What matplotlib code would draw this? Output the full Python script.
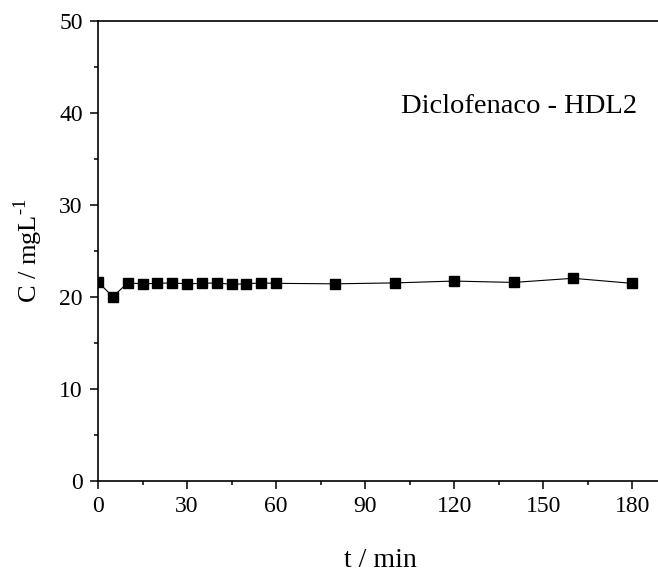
import numpy as np
import matplotlib
matplotlib.use("Agg")
import matplotlib.pyplot as plt
from matplotlib.ticker import MultipleLocator

plt.rcParams["font.family"] = ["Liberation Serif", "DejaVu Serif"]
plt.rcParams["mathtext.fontset"] = "custom"
plt.rcParams["mathtext.rm"] = "Liberation Serif"

# Data
t = [0, 5, 10, 15, 20, 25, 30, 35, 40, 45, 50, 55, 60, 80, 100, 120, 140, 160, 180]
conc = [21.6, 20.0, 21.5, 21.4, 21.45, 21.5, 21.4, 21.45, 21.5, 21.35, 21.4, 21.5, 21.45,
        21.4, 21.5, 21.7, 21.55, 22.0, 21.45]
label_text = "Diclofenaco - HDL2"

fig = plt.figure(figsize=(6.58, 5.76), dpi=100)
ax = fig.add_axes([98 / 658, 1 - 480.7 / 576, (662 - 98) / 658, (480.7 - 20.7) / 576])

ax.plot(t, conc, color="black", lw=0.8, marker="s", ms=6.5, mec="black", mfc="black")

ax.set_xlim(0, 190)
ax.set_ylim(0, 50)
ax.xaxis.set_major_locator(MultipleLocator(30))
ax.xaxis.set_minor_locator(MultipleLocator(15))
ax.yaxis.set_major_locator(MultipleLocator(10))
ax.yaxis.set_minor_locator(MultipleLocator(5))

for s in ax.spines.values():
    s.set_linewidth(1.2)
ax.spines["right"].set_visible(False)

ax.tick_params(which="major", direction="out", length=6, width=1.1, labelsize=17, pad=5)
ax.tick_params(which="minor", direction="out", length=3, width=1.1)
ax.tick_params(top=False, right=False, which="both")

ax.set_xlabel("t / min", fontsize=20, labelpad=22)
ax.set_ylabel(r"C / mgL$^{\text{-1}}$", fontsize=19, labelpad=10)

ax.text(102, 40, label_text, fontsize=20.5, ha="left", va="baseline")

fig.savefig("out.png", dpi=100)
